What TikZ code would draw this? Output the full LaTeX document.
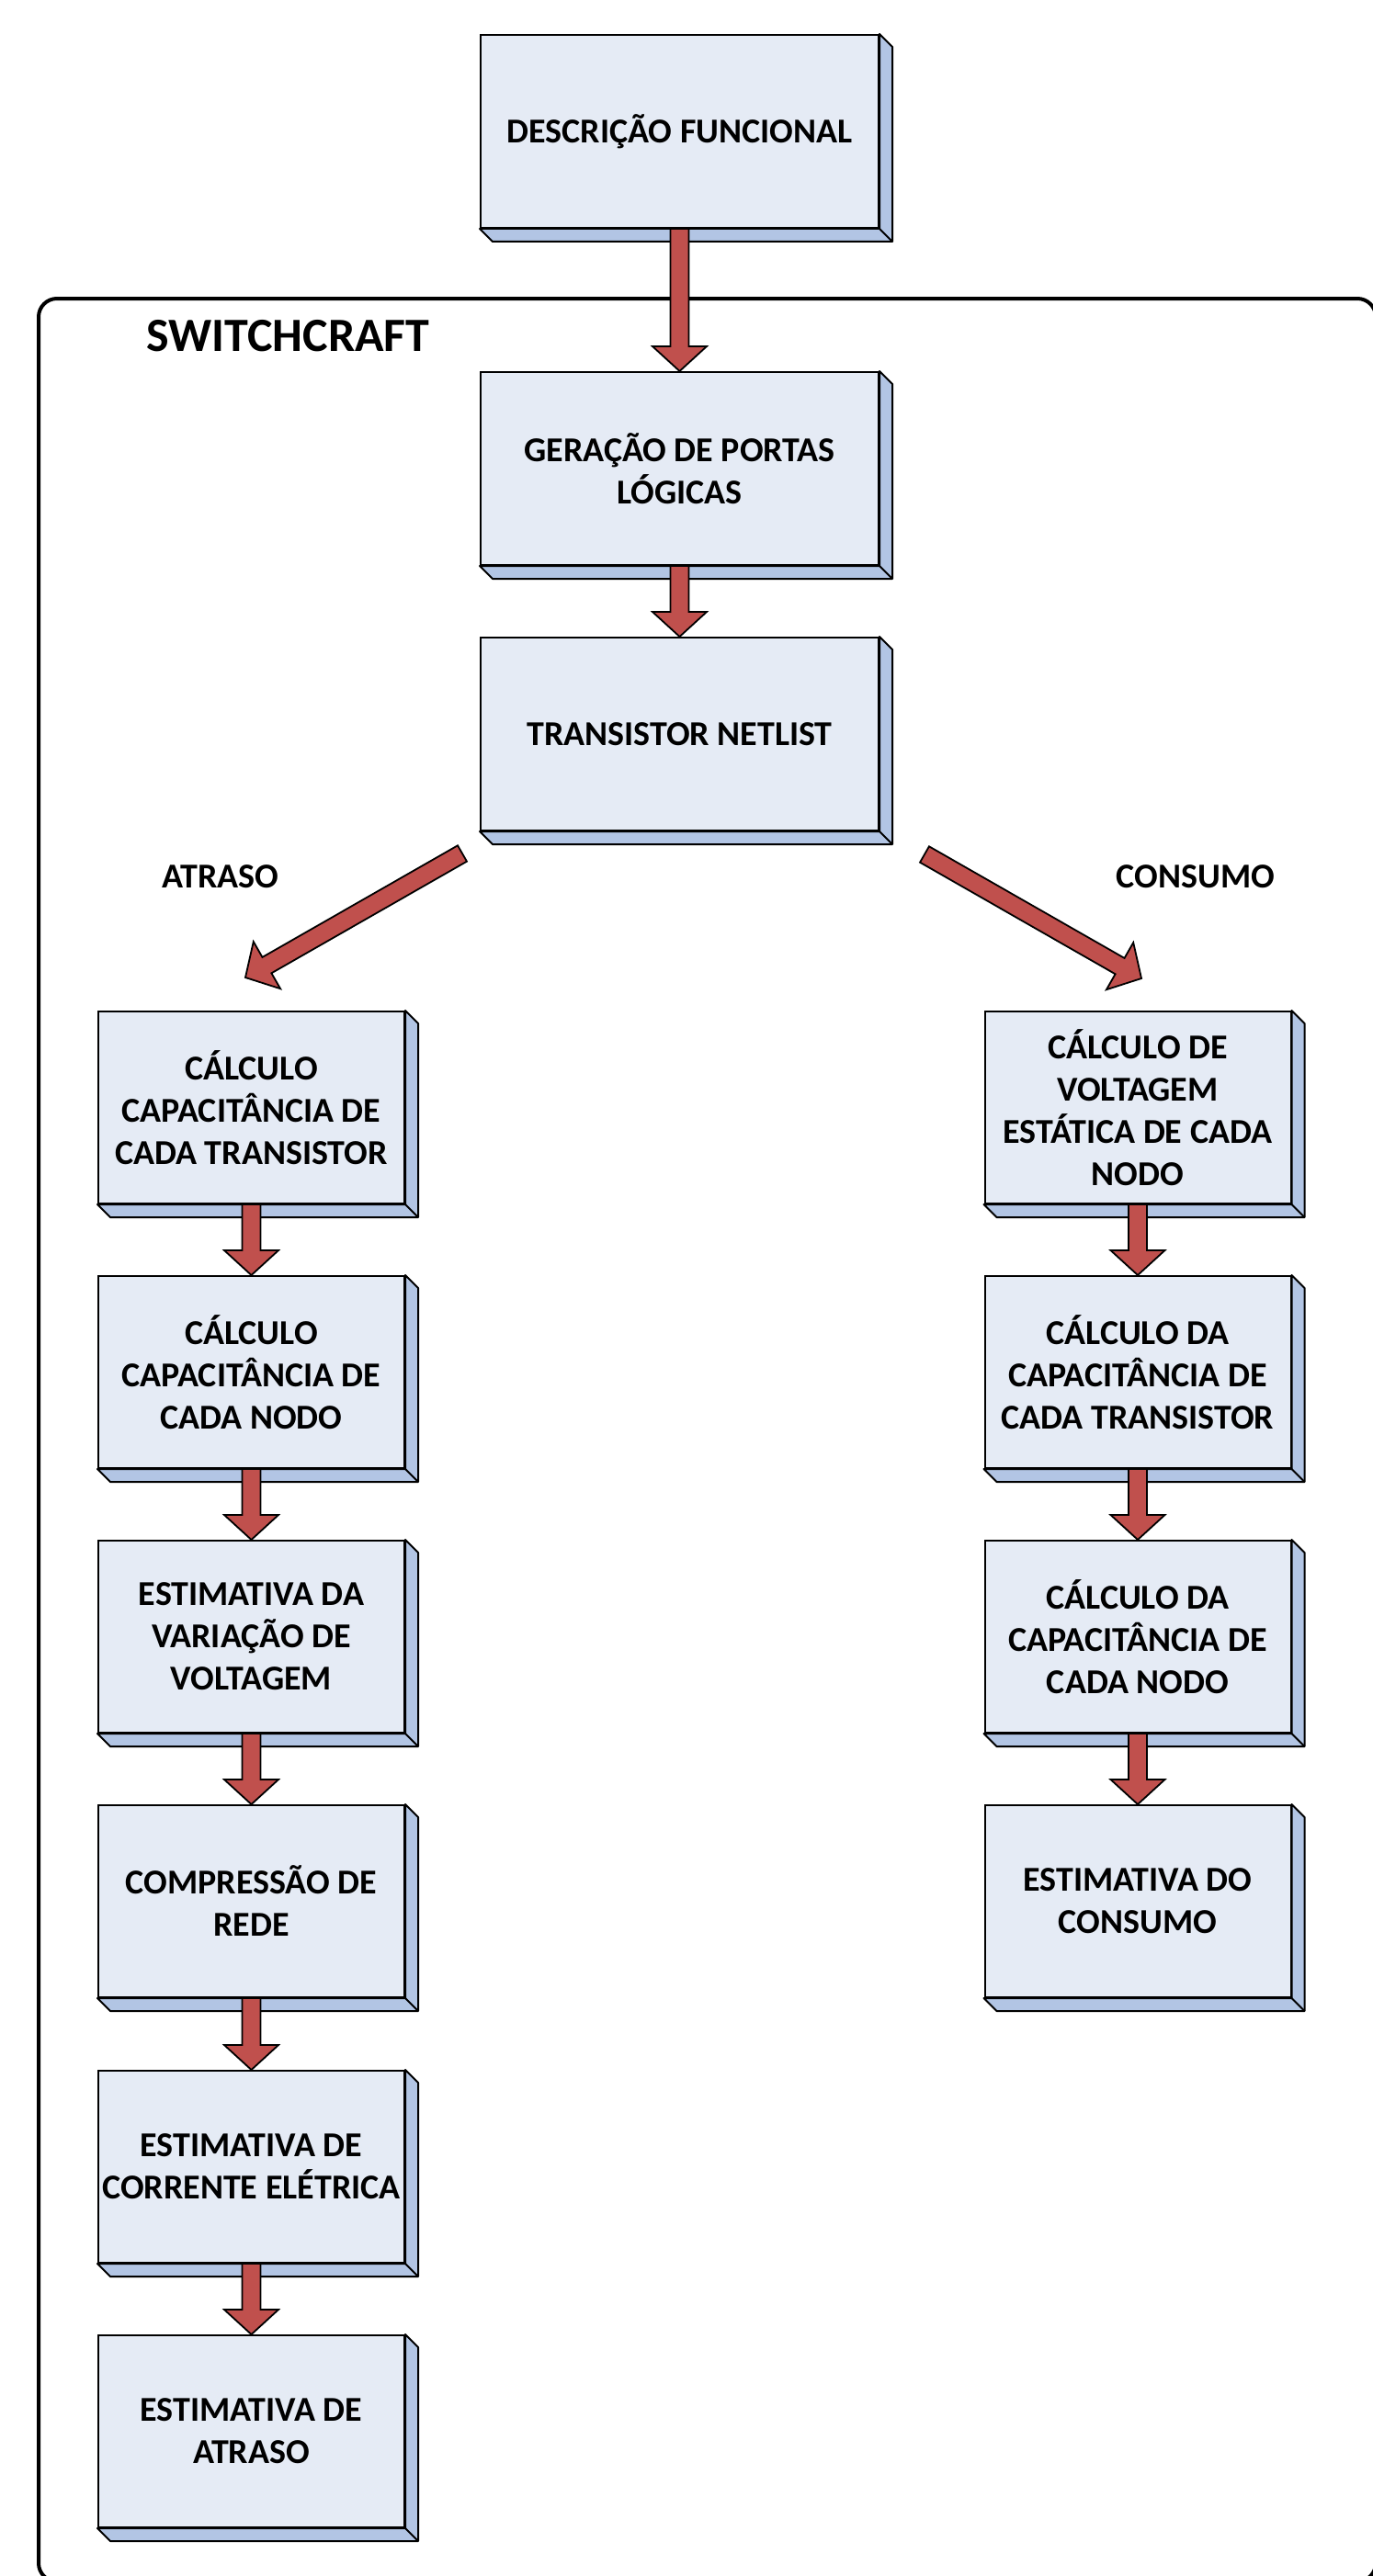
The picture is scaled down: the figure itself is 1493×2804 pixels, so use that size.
\documentclass[tikz,border=0pt]{standalone}
\usepackage{fontspec}
\setmainfont{Carlito}
\usetikzlibrary{calc}
\definecolor{front}{HTML}{E5EBF5}
\definecolor{side}{HTML}{B2C5E4}
\definecolor{ared}{HTML}{C0504D}
\newcommand\barrow[2]{%
  \coordinate (ba) at (#1);
  \coordinate (bb) at (#2);
  \coordinate (bh) at ($(bb)!13.5pt!(ba)$);
  \filldraw[arrowst] ($(ba)!5pt!90:(bb)$) -- ($(bh)!5pt!90:(bb)$) -- ($(bh)!14.75pt!90:(bb)$) -- (bb)
    -- ($(bh)!14.75pt!-90:(bb)$) -- ($(bh)!5pt!-90:(bb)$) -- ($(ba)!5pt!-90:(bb)$) -- cycle;
}
\begin{document}
\begin{tikzpicture}[x=0.5pt,y=-0.5pt,
  box/.style={draw=black, line width=1pt, fill=front, minimum width=216.5pt, minimum height=105pt,
    align=center, inner sep=0pt, font=\fontsize{19}{23}\selectfont\bfseries},
  sbox/.style={box, minimum width=166.5pt, minimum height=104.5pt},
  face/.style={draw=black, line width=1pt, fill=side, line join=round},
  arrowst/.style={draw=black, line width=0.9pt, fill=ared, line join=miter},
  lbl/.style={font=\fontsize{19}{23}\selectfont\bfseries, anchor=base, inner sep=0pt},
]
\useasboundingbox (0,0) rectangle (1493,2804);
\fill[white] (0,0) rectangle (1493,2804);
\draw[line width=2pt, rounded corners=10pt] (42,325) rectangle (1497,2810);
\node[lbl, font=\fontsize{26}{30}\selectfont\bfseries] (sc) at (313.5,382) {SWITCHCRAFT};
\node[lbl] (atr) at (240,966) {ATRASO};
\node[lbl] (con) at (1301,966) {CONSUMO};

\node[box] (d1) at (739.5,143) {DESCRIÇÃO FUNCIONAL};
\node[box] (d2) at (739.5,510) {GERAÇÃO DE PORTAS\\LÓGICAS};
\node[box] (d3) at (739.5,799) {TRANSISTOR NETLIST};

\node[sbox] (l1) at (273.5,1205.5) {CÁLCULO\\CAPACITÂNCIA DE\\CADA TRANSISTOR};
\node[sbox] (l2) at (273.5,1493.5) {CÁLCULO\\CAPACITÂNCIA DE\\CADA NODO};
\node[sbox] (l3) at (273.5,1781.5) {ESTIMATIVA DA\\VARIAÇÃO DE\\VOLTAGEM};
\node[sbox] (l4) at (273.5,2069.5) {COMPRESSÃO DE\\REDE};
\node[sbox] (l5) at (273.5,2358.5) {ESTIMATIVA DE\\CORRENTE ELÉTRICA};
\node[sbox] (l6) at (273.5,2646.5) {ESTIMATIVA DE\\ATRASO};

\node[sbox] (r1) at (1238,1205.5) {CÁLCULO DE\\VOLTAGEM\\ESTÁTICA DE CADA\\NODO};
\node[sbox] (r2) at (1238,1493.5) {CÁLCULO DA\\CAPACITÂNCIA DE\\CADA TRANSISTOR};
\node[sbox] (r3) at (1238,1781.5) {CÁLCULO DA\\CAPACITÂNCIA DE\\CADA NODO};
\node[sbox] (r4) at (1238,2069.5) {ESTIMATIVA DO\\CONSUMO};

\foreach \n in {d1,d2,d3,l1,l2,l3,l4,l5,l6,r1,r2,r3,r4} {
  \filldraw[face] (\n.north east) -- ++(7pt,-7pt) -- ([shift={(7pt,-7pt)}]\n.south east)
    -- ([shift={(7pt,-7pt)}]\n.south west) -- (\n.south west) -- (\n.south east) -- cycle;
  \draw[face] (\n.south east) -- ++(7pt,-7pt);
}

\barrow{d1.south}{d2.north}
\barrow{d2.south}{d3.north}
\barrow{l1.south}{l2.north}
\barrow{l2.south}{l3.north}
\barrow{l3.south}{l4.north}
\barrow{l4.south}{l5.north}
\barrow{l5.south}{l6.north}
\barrow{r1.south}{r2.north}
\barrow{r2.south}{r3.north}
\barrow{r3.south}{r4.north}

\coordinate (atail) at (503,929);
\coordinate (atip) at (267,1064);
\coordinate (ctail) at (1006,930);
\coordinate (ctip) at (1242,1065);
\barrow{atail}{atip}
\barrow{ctail}{ctip}
\end{tikzpicture}
\end{document}
